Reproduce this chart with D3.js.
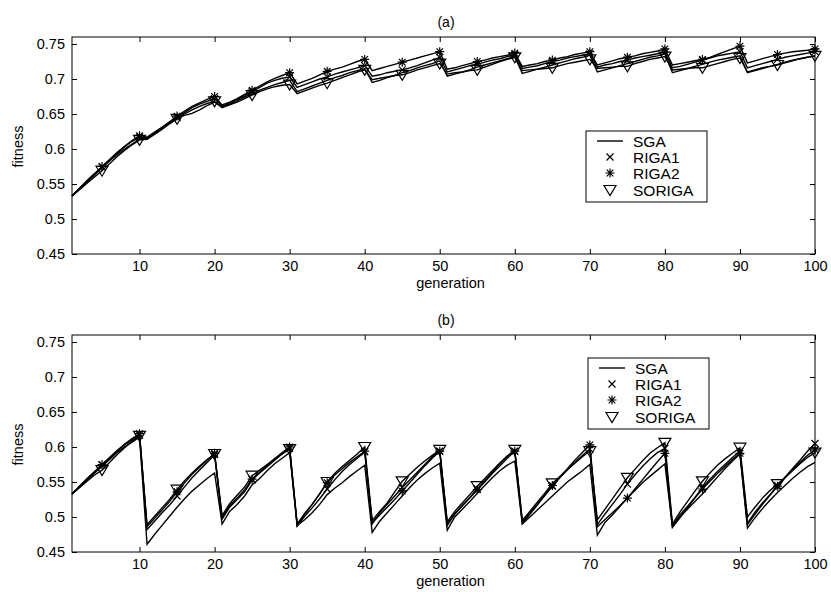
<!DOCTYPE html>
<html>
<head>
<meta charset="utf-8">
<script src="https://cdn.jsdelivr.net/npm/d3@7"></script>
<style>
  body { margin: 0; background: #fff; }
  text { font-family: "Liberation Sans", Arial, sans-serif; fill: #000; }
</style>
</head>
<body>
<div id="chart"></div>
<script>
// generation 1..100
var generations = d3.range(1, 101);
var xTicks = [10, 20, 30, 40, 50, 60, 70, 80, 90, 100];
var yTicks = [0.45, 0.5, 0.55, 0.6, 0.65, 0.7, 0.75];
var seriesNames = ['SGA', 'RIGA1', 'RIGA2', 'SORIGA'];
var markerEvery = 5;

// panel (a)
var sgaA = [
  0.533, 0.543, 0.553, 0.563, 0.573, 0.583, 0.592, 0.600, 0.607, 0.614,
  0.616, 0.623, 0.631, 0.638, 0.644, 0.648, 0.651, 0.656, 0.662, 0.667,
  0.660, 0.664, 0.669, 0.674, 0.679, 0.684, 0.688, 0.692, 0.695, 0.698,
  0.682, 0.686, 0.690, 0.694, 0.698, 0.702, 0.705, 0.709, 0.712, 0.715,
  0.695, 0.698, 0.702, 0.705, 0.709, 0.712, 0.716, 0.719, 0.722, 0.726,
  0.704, 0.707, 0.710, 0.713, 0.717, 0.720, 0.723, 0.726, 0.729, 0.732,
  0.708, 0.711, 0.714, 0.717, 0.720, 0.723, 0.726, 0.729, 0.731, 0.734,
  0.710, 0.713, 0.716, 0.719, 0.722, 0.725, 0.728, 0.731, 0.733, 0.736,
  0.709, 0.712, 0.715, 0.718, 0.721, 0.724, 0.727, 0.729, 0.731, 0.733,
  0.709, 0.712, 0.715, 0.718, 0.721, 0.724, 0.727, 0.729, 0.731, 0.733
];
var riga1A = [
  0.533, 0.544, 0.555, 0.565, 0.574, 0.584, 0.594, 0.603, 0.611, 0.617,
  0.615, 0.622, 0.630, 0.637, 0.645, 0.652, 0.659, 0.664, 0.668, 0.672,
  0.661, 0.666, 0.671, 0.676, 0.682, 0.688, 0.694, 0.698, 0.701, 0.703,
  0.688, 0.692, 0.696, 0.700, 0.703, 0.707, 0.710, 0.713, 0.716, 0.719,
  0.704, 0.706, 0.709, 0.711, 0.713, 0.716, 0.719, 0.723, 0.727, 0.731,
  0.710, 0.713, 0.716, 0.719, 0.721, 0.724, 0.727, 0.729, 0.732, 0.735,
  0.715, 0.717, 0.719, 0.722, 0.725, 0.727, 0.730, 0.732, 0.734, 0.736,
  0.717, 0.720, 0.722, 0.725, 0.727, 0.730, 0.732, 0.734, 0.736, 0.738,
  0.716, 0.718, 0.721, 0.724, 0.727, 0.730, 0.733, 0.735, 0.737, 0.739,
  0.716, 0.719, 0.722, 0.725, 0.728, 0.731, 0.733, 0.735, 0.737, 0.739
];
var riga2A = [
  0.533, 0.544, 0.554, 0.564, 0.575, 0.585, 0.595, 0.604, 0.612, 0.619,
  0.617, 0.624, 0.631, 0.639, 0.647, 0.654, 0.661, 0.666, 0.671, 0.675,
  0.663, 0.667, 0.672, 0.678, 0.684, 0.690, 0.696, 0.701, 0.705, 0.709,
  0.693, 0.697, 0.701, 0.706, 0.711, 0.714, 0.717, 0.721, 0.725, 0.728,
  0.712, 0.715, 0.718, 0.721, 0.724, 0.727, 0.730, 0.733, 0.736, 0.739,
  0.714, 0.716, 0.719, 0.722, 0.725, 0.727, 0.730, 0.732, 0.734, 0.737,
  0.718, 0.720, 0.722, 0.725, 0.727, 0.730, 0.732, 0.735, 0.737, 0.739,
  0.720, 0.723, 0.726, 0.729, 0.731, 0.733, 0.736, 0.738, 0.740, 0.743,
  0.720, 0.722, 0.724, 0.726, 0.728, 0.731, 0.735, 0.739, 0.743, 0.747,
  0.723, 0.726, 0.729, 0.732, 0.735, 0.737, 0.739, 0.740, 0.741, 0.743
];
var sorigaA = [
  0.533, 0.542, 0.551, 0.560, 0.569, 0.579, 0.589, 0.598, 0.606, 0.613,
  0.614, 0.621, 0.628, 0.636, 0.643, 0.650, 0.656, 0.661, 0.665, 0.668,
  0.659, 0.663, 0.667, 0.672, 0.677, 0.682, 0.686, 0.689, 0.691, 0.692,
  0.679, 0.683, 0.687, 0.691, 0.694, 0.698, 0.702, 0.706, 0.710, 0.713,
  0.699, 0.701, 0.703, 0.705, 0.706, 0.709, 0.713, 0.716, 0.719, 0.722,
  0.707, 0.709, 0.710, 0.712, 0.713, 0.717, 0.721, 0.725, 0.728, 0.731,
  0.712, 0.713, 0.714, 0.715, 0.716, 0.719, 0.722, 0.724, 0.726, 0.728,
  0.715, 0.716, 0.717, 0.718, 0.718, 0.722, 0.725, 0.728, 0.730, 0.732,
  0.713, 0.714, 0.715, 0.716, 0.716, 0.719, 0.722, 0.725, 0.728, 0.730,
  0.710, 0.713, 0.716, 0.718, 0.720, 0.723, 0.726, 0.729, 0.731, 0.733
];

// panel (b)
var sgaB = [
  0.533, 0.543, 0.553, 0.563, 0.572, 0.582, 0.592, 0.600, 0.607, 0.614,
  0.461, 0.475, 0.488, 0.501, 0.514, 0.526, 0.537, 0.546, 0.555, 0.563,
  0.490, 0.508, 0.518, 0.530, 0.546, 0.555, 0.566, 0.576, 0.584, 0.592,
  0.488, 0.496, 0.506, 0.518, 0.532, 0.541, 0.549, 0.558, 0.566, 0.574,
  0.478, 0.494, 0.506, 0.518, 0.530, 0.542, 0.553, 0.562, 0.570, 0.577,
  0.481, 0.500, 0.511, 0.522, 0.534, 0.545, 0.556, 0.566, 0.574, 0.580,
  0.490, 0.500, 0.510, 0.520, 0.530, 0.540, 0.550, 0.558, 0.566, 0.575,
  0.474, 0.492, 0.503, 0.515, 0.527, 0.538, 0.549, 0.558, 0.567, 0.576,
  0.486, 0.500, 0.511, 0.522, 0.533, 0.545, 0.557, 0.569, 0.580, 0.590,
  0.484, 0.499, 0.512, 0.524, 0.535, 0.545, 0.555, 0.564, 0.572, 0.578
];
var riga1B = [
  0.533, 0.544, 0.554, 0.564, 0.574, 0.584, 0.594, 0.603, 0.610, 0.617,
  0.482, 0.494, 0.506, 0.517, 0.530, 0.543, 0.556, 0.567, 0.578, 0.589,
  0.497, 0.514, 0.525, 0.536, 0.553, 0.563, 0.572, 0.581, 0.590, 0.598,
  0.487, 0.501, 0.513, 0.526, 0.540, 0.553, 0.565, 0.575, 0.584, 0.593,
  0.490, 0.506, 0.518, 0.530, 0.542, 0.553, 0.564, 0.575, 0.586, 0.594,
  0.488, 0.504, 0.516, 0.528, 0.540, 0.552, 0.564, 0.576, 0.587, 0.594,
  0.493, 0.506, 0.518, 0.531, 0.544, 0.556, 0.567, 0.578, 0.588, 0.597,
  0.489, 0.504, 0.518, 0.532, 0.547, 0.560, 0.572, 0.583, 0.592, 0.598,
  0.488, 0.503, 0.515, 0.528, 0.542, 0.554, 0.565, 0.575, 0.585, 0.594,
  0.491, 0.507, 0.520, 0.532, 0.545, 0.557, 0.569, 0.581, 0.594, 0.605
];
var riga2B = [
  0.533, 0.544, 0.555, 0.565, 0.575, 0.585, 0.595, 0.604, 0.612, 0.619,
  0.486, 0.498, 0.510, 0.522, 0.536, 0.549, 0.561, 0.571, 0.581, 0.591,
  0.499, 0.516, 0.527, 0.539, 0.554, 0.564, 0.574, 0.583, 0.592, 0.600,
  0.489, 0.505, 0.518, 0.533, 0.549, 0.560, 0.569, 0.578, 0.586, 0.594,
  0.492, 0.503, 0.514, 0.525, 0.537, 0.549, 0.561, 0.573, 0.584, 0.594,
  0.491, 0.505, 0.516, 0.527, 0.539, 0.550, 0.562, 0.573, 0.584, 0.594,
  0.491, 0.504, 0.517, 0.531, 0.545, 0.557, 0.569, 0.581, 0.592, 0.603,
  0.486, 0.496, 0.506, 0.516, 0.527, 0.540, 0.553, 0.566, 0.579, 0.591,
  0.485, 0.499, 0.513, 0.527, 0.540, 0.551, 0.562, 0.572, 0.582, 0.591,
  0.489, 0.504, 0.518, 0.531, 0.544, 0.556, 0.567, 0.578, 0.588, 0.596
];
var sorigaB = [
  0.533, 0.542, 0.551, 0.560, 0.567, 0.578, 0.589, 0.599, 0.608, 0.616,
  0.489, 0.501, 0.513, 0.525, 0.539, 0.552, 0.563, 0.573, 0.582, 0.590,
  0.502, 0.519, 0.531, 0.543, 0.559, 0.567, 0.575, 0.583, 0.590, 0.597,
  0.490, 0.504, 0.518, 0.533, 0.550, 0.562, 0.572, 0.581, 0.590, 0.600,
  0.495, 0.508, 0.520, 0.536, 0.551, 0.561, 0.571, 0.580, 0.588, 0.596,
  0.493, 0.508, 0.520, 0.532, 0.544, 0.555, 0.566, 0.577, 0.587, 0.596,
  0.495, 0.508, 0.521, 0.534, 0.548, 0.558, 0.568, 0.577, 0.586, 0.594,
  0.496, 0.511, 0.526, 0.541, 0.556, 0.568, 0.580, 0.591, 0.599, 0.606,
  0.490, 0.507, 0.522, 0.537, 0.551, 0.563, 0.574, 0.583, 0.591, 0.599,
  0.500, 0.514, 0.527, 0.538, 0.547, 0.556, 0.566, 0.576, 0.585, 0.592
];

var W = 831, H = 592;
var svg = d3.select('#chart').append('svg').attr('width', W).attr('height', H);

var markerPath = {
  RIGA1: 'M-3.5,-3.5L3.5,3.5M-3.5,3.5L3.5,-3.5',
  RIGA2: 'M-4.5,0L4.5,0M0,-4.5L0,4.5M-3.3,-3.3L3.3,3.3M-3.3,3.3L3.3,-3.3',
  SORIGA: 'M-6,-4.5L6,-4.5L0,5.5Z'
};

function drawPanel(top, title, data, legendPos) {
	var left = 72, right = 815, h = 217;
	var x = d3.scaleLinear().domain([1, 100]).range([left, right]);
	var y = d3.scaleLinear().domain([0.45, 0.76]).range([top + h, top]);
	var g = svg.append('g');

	// ticks, inward on all four sides
	g.append('g').attr('transform', 'translate(0,' + (top + h) + ')')
		.call(d3.axisBottom(x).tickValues(xTicks).tickSizeInner(-5).tickSizeOuter(0).tickPadding(7))
		.call(function (a) { a.select('.domain').remove(); a.selectAll('text').attr('font-size', 14.5); });
	g.append('g').attr('transform', 'translate(0,' + top + ')')
		.call(d3.axisTop(x).tickValues(xTicks).tickSizeInner(-5).tickSizeOuter(0).tickFormat(''))
		.call(function (a) { a.select('.domain').remove(); });
	g.append('g').attr('transform', 'translate(' + left + ',0)')
		.call(d3.axisLeft(y).tickValues(yTicks).tickSizeInner(-5).tickSizeOuter(0).tickPadding(7).tickFormat(d3.format('~g')))
		.call(function (a) { a.select('.domain').remove(); a.selectAll('text').attr('font-size', 14.5); });
	g.append('g').attr('transform', 'translate(' + right + ',0)')
		.call(d3.axisRight(y).tickValues(yTicks).tickSizeInner(-5).tickSizeOuter(0).tickFormat(''))
		.call(function (a) { a.select('.domain').remove(); });
	g.selectAll('.tick line').attr('stroke', '#000');
	g.selectAll('.tick text').attr('fill', '#000').attr('font-family', '"Liberation Sans", Arial, sans-serif');

	g.append('rect').attr('x', left).attr('y', top).attr('width', right - left).attr('height', h)
		.attr('fill', 'none').attr('stroke', '#000').attr('stroke-width', 1);

	var line = d3.line().x(function (d, i) { return x(generations[i]); }).y(function (d) { return y(d); });

	data.forEach(function (s, k) {
		g.append('path').datum(s).attr('d', line)
			.attr('fill', 'none').attr('stroke', '#000').attr('stroke-width', 1.4);
		var name = seriesNames[k];
		if (markerPath[name]) {
			var pts = generations.filter(function (gen) { return gen % markerEvery === 0; });
			g.selectAll('.m' + k).data(pts).enter().append('path')
				.attr('transform', function (gen) { return 'translate(' + x(gen) + ',' + y(s[gen - 1]) + ')'; })
				.attr('d', markerPath[name])
				.attr('fill', 'none').attr('stroke', '#000').attr('stroke-width', 1.2);
		}
	});

	// labels
	g.append('text').attr('x', 446).attr('y', top - 10.5).attr('text-anchor', 'middle').attr('font-size', 14).text(title);
	g.append('text').attr('x', (left + right) / 2 + 7).attr('y', top + h + 33.5).attr('text-anchor', 'middle').attr('font-size', 14.5).text('generation');
	g.append('text').attr('transform', 'translate(22.5,' + (top + h / 2 + 1) + ') rotate(-90)')
		.attr('text-anchor', 'middle').attr('font-size', 14.5).text('fitness');

	// legend
	var lg = g.append('g').attr('transform', 'translate(' + legendPos[0] + ',' + legendPos[1] + ')');
	lg.append('rect').attr('width', 121).attr('height', 71).attr('fill', '#fff').attr('stroke', '#000');
	var rows = [10, 26, 42, 59];
	seriesNames.forEach(function (name, k) {
		if (k === 0) {
			lg.append('line').attr('x1', 11).attr('x2', 37).attr('y1', rows[k]).attr('y2', rows[k])
				.attr('stroke', '#000').attr('stroke-width', 1.4);
		} else {
			lg.append('path').attr('transform', 'translate(24,' + rows[k] + ')').attr('d', markerPath[name])
				.attr('fill', 'none').attr('stroke', '#000').attr('stroke-width', 1.2);
		}
		lg.append('text').attr('x', 47).attr('y', rows[k] + 5.5).attr('font-size', 15.5).text(name);
	});
}

drawPanel(37, '(a)', [sgaA, riga1A, riga2A, sorigaA], [586, 131]);
drawPanel(335, '(b)', [sgaB, riga1B, riga2B, sorigaB], [588, 358]);
</script>
</body>
</html>
